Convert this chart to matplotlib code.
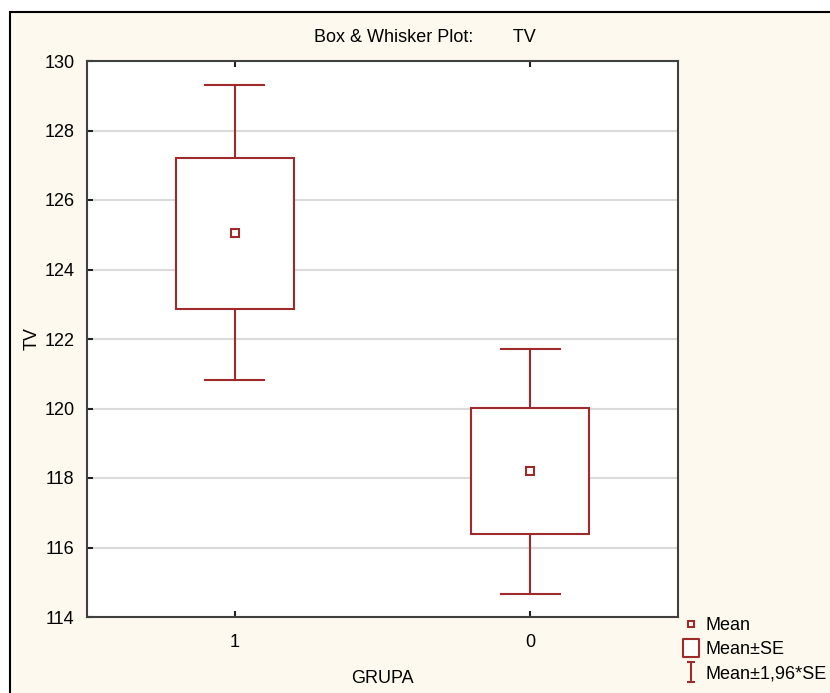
import matplotlib.pyplot as plt
from matplotlib.patches import Rectangle
from matplotlib.lines import Line2D
from matplotlib.path import Path

plt.rcParams['font.family'] = ['Liberation Sans', 'DejaVu Sans']

groups = ['1', '0']
means = [125.05, 118.20]
se_low = [122.87, 116.39]
se_high = [127.21, 120.01]
ci_low = [120.82, 114.66]
ci_high = [129.31, 121.72]
yticks = [114, 116, 118, 120, 122, 124, 126, 128, 130]

red = '#9E2A2B'
beige = '#FEF9EE'

fig = plt.figure(figsize=(8.3, 6.93), dpi=100)
fig.patch.set_facecolor('white')
# window frame
fig.patches.append(Rectangle((10 / 830, -0.01), 1.0, 1 - 12 / 693 + 0.01,
                             transform=fig.transFigure, facecolor=beige,
                             edgecolor='black', linewidth=1.5, zorder=-10))

ax = fig.add_axes([87 / 830, 1 - 617 / 693, (678 - 87) / 830, (617 - 61) / 693])
ax.set_facecolor('white')

for i in range(len(groups)):
    # whiskers
    ax.plot([i, i], [ci_low[i], se_low[i]], color=red, lw=1.5)
    ax.plot([i, i], [se_high[i], ci_high[i]], color=red, lw=1.5)
    ax.plot([i - 0.1, i + 0.1], [ci_low[i], ci_low[i]], color=red, lw=1.5)
    ax.plot([i - 0.1, i + 0.1], [ci_high[i], ci_high[i]], color=red, lw=1.5)
    # box
    ax.add_patch(Rectangle((i - 0.2, se_low[i]), 0.4, se_high[i] - se_low[i],
                           facecolor='white', edgecolor=red, lw=1.5, zorder=3))
    ax.plot(i, means[i], marker='s', ms=6, mfc='white', mec=red, mew=1.5, zorder=4)

ax.set_xlim(-0.5, 1.5)
ax.set_ylim(114, 130)
ax.set_xticks(range(len(groups)))
ax.set_xticklabels(groups)
ax.set_yticks(yticks)
ax.grid(axis='y', color='#DADADA', lw=1.5)
ax.set_axisbelow(True)
ax.tick_params(direction='in', length=4, width=1.5, color='#202020',
               labelsize=13, top=True)
ax.tick_params(axis='x', pad=12)
ax.tick_params(axis='y', pad=9)
for s in ax.spines.values():
    s.set_color('#404040')
    s.set_linewidth(1.5)

ax.set_ylabel('TV', fontsize=13, labelpad=3)
ax.set_xlabel('GRUPA', fontsize=13, labelpad=14)
fig.text(425 / 830, 1 - 38 / 693, 'Box & Whisker Plot:        TV',
         ha='center', va='center', fontsize=13)

ibeam = Path([(-0.35, 1), (0.35, 1), (0, 1), (0, -1), (-0.35, -1), (0.35, -1)],
             [Path.MOVETO, Path.LINETO, Path.MOVETO, Path.LINETO, Path.MOVETO, Path.LINETO])
tallbox = Path([(-0.85, -1), (0.85, -1), (0.85, 1), (-0.85, 1), (-0.85, -1)],
               [Path.MOVETO, Path.LINETO, Path.LINETO, Path.LINETO, Path.CLOSEPOLY])
handles = [
    Line2D([], [], ls='none', marker='s', ms=5, mfc='white', mec=red, mew=1.5),
    Line2D([], [], ls='none', marker=tallbox, ms=13, mfc='white', mec=red, mew=1.5),
    Line2D([], [], ls='none', marker=ibeam, ms=15, mfc='none', mec=red, mew=1.5),
]
fig.legend(handles, ['Mean', 'Mean±SE', 'Mean±1,96*SE'],
           loc='upper left', bbox_to_anchor=(682 / 830, 1 - 617 / 693),
           frameon=False, fontsize=13, handlelength=1.0, handletextpad=0.3,
           labelspacing=0.4, borderaxespad=0, borderpad=0)

fig.savefig('out.png', dpi=100, facecolor=fig.get_facecolor())
